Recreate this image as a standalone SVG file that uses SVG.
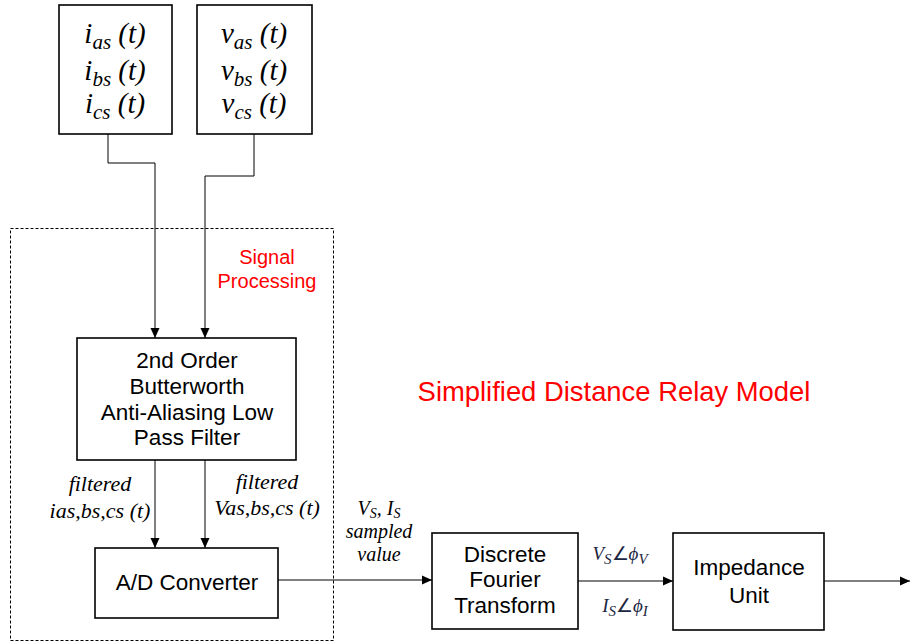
<svg xmlns="http://www.w3.org/2000/svg" width="910" height="643" viewBox="0 0 910 643">
  <style>
    .box { fill: #ffffff; stroke: #000000; stroke-width: 1.6; }
    .wire { fill: none; stroke: #000000; stroke-width: 1; }
    .sans { font-family: "Liberation Sans", Arial, sans-serif; fill: #000000; text-anchor: middle; }
    .serif { font-family: "Liberation Serif", "Times New Roman", serif; font-style: italic; fill: #000000; text-anchor: middle; }
    .red { fill: #ff0000; }
    .phasor { font-family: "Liberation Serif", "Times New Roman", serif; font-style: italic; fill: #1c2541; text-anchor: middle; font-size: 19px; }
  </style>
  <defs>
    <marker id="arrow" viewBox="0 0 10 10" refX="10" refY="5" markerWidth="10" markerHeight="10" markerUnits="userSpaceOnUse" orient="auto">
      <path d="M0,0.5 L10,5 L0,9.5 z" fill="#000000"/>
    </marker>
  </defs>

  <rect width="910" height="643" fill="#ffffff"/>

  <!-- signal processing enclosure -->
  <g id="signal-processing">
    <rect x="10.5" y="228.5" width="323" height="412" fill="none" stroke="#000000" stroke-width="1" stroke-dasharray="3,2"/>
    <text class="sans red" x="267" y="264" font-size="20">Signal</text>
    <text class="sans red" x="267" y="288" font-size="20">Processing</text>
  </g>

  <text class="sans red" x="614" y="401" font-size="27.4">Simplified Distance Relay Model</text>

  <!-- connectors -->
  <g id="connectors">
    <polyline class="wire" points="108,134 108,163 155,163 155,338" marker-end="url(#arrow)"/>
    <polyline class="wire" points="254,134 254,176 205,176 205,338" marker-end="url(#arrow)"/>
    <line class="wire" x1="155" y1="460" x2="155" y2="548" marker-end="url(#arrow)"/>
    <line class="wire" x1="205" y1="460" x2="205" y2="548" marker-end="url(#arrow)"/>
    <line class="wire" x1="278" y1="580" x2="432" y2="580" marker-end="url(#arrow)"/>
    <line class="wire" x1="578" y1="581" x2="673" y2="581" marker-end="url(#arrow)"/>
    <line class="wire" x1="824" y1="581" x2="910" y2="581" marker-end="url(#arrow)"/>
  </g>

  <!-- current inputs -->
  <g id="currents">
    <rect class="box" x="59" y="5" width="113" height="129"/>
    <text class="serif" font-size="29" x="115" y="43">i<tspan font-size="21" dy="6">as</tspan><tspan dy="-6"> (t)</tspan></text>
    <text class="serif" font-size="29" x="115" y="80">i<tspan font-size="21" dy="6">bs</tspan><tspan dy="-6"> (t)</tspan></text>
    <text class="serif" font-size="29" x="115" y="113">i<tspan font-size="21" dy="6">cs</tspan><tspan dy="-6"> (t)</tspan></text>
  </g>

  <!-- voltage inputs -->
  <g id="voltages">
    <rect class="box" x="197" y="5" width="115" height="129"/>
    <text class="serif" font-size="29" x="254" y="43">v<tspan font-size="21" dy="6">as</tspan><tspan dy="-6"> (t)</tspan></text>
    <text class="serif" font-size="29" x="254" y="80">v<tspan font-size="21" dy="6">bs</tspan><tspan dy="-6"> (t)</tspan></text>
    <text class="serif" font-size="29" x="254" y="113">v<tspan font-size="21" dy="6">cs</tspan><tspan dy="-6"> (t)</tspan></text>
  </g>

  <!-- anti-aliasing filter -->
  <g id="filter">
    <rect class="box" x="77" y="338" width="219" height="122"/>
    <text class="sans" font-size="22.5" x="187" y="368">2nd Order</text>
    <text class="sans" font-size="22.5" x="187" y="394">Butterworth</text>
    <text class="sans" font-size="22.5" x="187" y="420">Anti-Aliasing Low</text>
    <text class="sans" font-size="22.5" x="187" y="445">Pass Filter</text>
  </g>

  <text class="serif" font-size="22" x="100" y="491">filtered</text>
  <text class="serif" font-size="22" x="100" y="518">ias,bs,cs (t)</text>
  <text class="serif" font-size="22" x="267" y="489">filtered</text>
  <text class="serif" font-size="22" x="267" y="515">Vas,bs,cs (t)</text>

  <!-- A/D converter -->
  <g id="adc">
    <rect class="box" x="95" y="548" width="183" height="70"/>
    <text class="sans" font-size="22.5" x="187" y="590">A/D Converter</text>
  </g>

  <text class="serif" font-size="20" x="379" y="515">V<tspan font-size="14" dy="3">S</tspan><tspan dy="-3">, I</tspan><tspan font-size="14" dy="3">S</tspan></text>
  <text class="serif" font-size="20" x="379" y="538">sampled</text>
  <text class="serif" font-size="20" x="379" y="561">value</text>

  <!-- discrete Fourier transform -->
  <g id="dft">
    <rect class="box" x="432" y="533" width="146" height="96"/>
    <text class="sans" font-size="22.5" x="505" y="562">Discrete</text>
    <text class="sans" font-size="22.5" x="505" y="587">Fourier</text>
    <text class="sans" font-size="22.5" x="505" y="613">Transform</text>
  </g>

  <text class="phasor" x="620" y="560">V<tspan font-size="15" dy="4">S</tspan><tspan dy="-4" font-style="normal">∠</tspan>ϕ<tspan font-size="15" dy="4">V</tspan></text>
  <text class="phasor" x="625" y="612">I<tspan font-size="15" dy="4">S</tspan><tspan dy="-4" font-style="normal">∠</tspan>ϕ<tspan font-size="15" dy="4">I</tspan></text>

  <!-- impedance unit -->
  <g id="impedance">
    <rect class="box" x="673" y="533" width="151" height="97"/>
    <text class="sans" font-size="22.5" x="749" y="575">Impedance</text>
    <text class="sans" font-size="22.5" x="749" y="603">Unit</text>
  </g>
</svg>
